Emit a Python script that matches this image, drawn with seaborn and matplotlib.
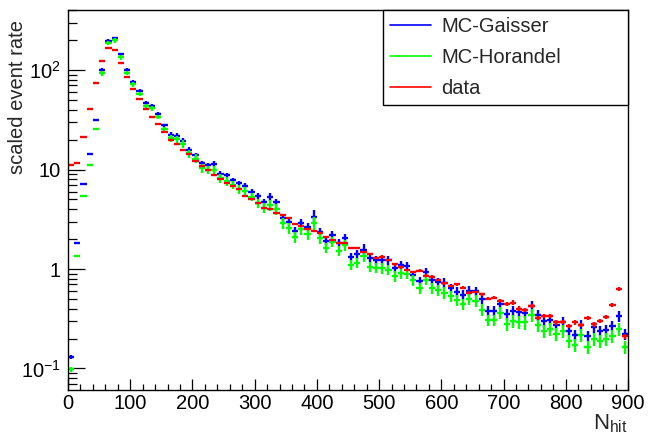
import numpy as np
import pandas as pd
import seaborn as sns
import matplotlib
matplotlib.use('Agg')
import matplotlib.pyplot as plt
from matplotlib.lines import Line2D
from matplotlib.ticker import FixedLocator, MultipleLocator, LogLocator, NullFormatter

# histogram bins: 0..900 in steps of 10
bin_edges = np.arange(0, 910, 10)
bin_centers = (bin_edges[:-1] + bin_edges[1:]) / 2

# MC-Gaisser (blue)
gaisser = [
    0.131, 1.84, 7.2, 14.4, 31.2, 100, 197, 208, 144, 101,
    76.3, 62, 46.6, 43.8, 36.1, 27.8, 22.2, 21.7, 19.5, 15.7,
    13.9, 11.5, 11.0, 11.4, 9.0, 8.75, 7.8, 7.25, 6.87, 5.98,
    5.4, 4.68, 5.33, 4.68, 3.23, 2.99, 2.41, 2.92, 2.62, 3.35,
    2.37, 1.92, 2.19, 1.84, 2.06, 1.33, 1.41, 1.55, 1.28, 1.23,
    1.23, 1.23, 1.02, 1.10, 1.08, 0.87, 0.76, 0.93, 0.775, 0.735,
    0.73, 0.64, 0.59, 0.55, 0.605, 0.60, 0.50, 0.38, 0.38, 0.45,
    0.35, 0.38, 0.37, 0.365, 0.425, 0.345, 0.30, 0.31, 0.273, 0.295,
    0.24, 0.217, 0.273, 0.212, 0.26, 0.24, 0.244, 0.27, 0.337, 0.222,
]
gaisser_relerr = [
    0.05, 0.01, 0.015, 0.015, 0.02, 0.04, 0.04, 0.04, 0.04, 0.04,
    0.04, 0.04, 0.04, 0.04, 0.04, 0.04, 0.065, 0.065, 0.065, 0.065,
    0.065, 0.065, 0.065, 0.065, 0.065, 0.065, 0.065, 0.065, 0.065, 0.065,
    0.065, 0.09, 0.09, 0.09, 0.10, 0.10, 0.10, 0.10, 0.10, 0.16,
    0.10, 0.10, 0.10, 0.10, 0.10, 0.10, 0.10, 0.15, 0.09, 0.10,
    0.10, 0.10, 0.10, 0.10, 0.10, 0.10, 0.10, 0.10, 0.10, 0.10,
    0.11, 0.11, 0.11, 0.11, 0.11, 0.11, 0.11, 0.11, 0.11, 0.11,
    0.12, 0.12, 0.12, 0.12, 0.12, 0.12, 0.12, 0.12, 0.12, 0.12,
    0.12, 0.13, 0.12, 0.115, 0.12, 0.12, 0.12, 0.12, 0.12, 0.12,
]

# MC-Horandel (green)
horandel = [
    0.098, 1.36, 5.45, 11.2, 25.7, 92.7, 188, 198, 134, 94,
    71.8, 57.4, 43.2, 41.2, 33.5, 25.7, 20.6, 20.1, 18.1, 14.5,
    12.9, 10.3, 9.9, 9.9, 8.2, 7.65, 7.0, 6.3, 6.1, 5.3,
    4.58, 4.13, 4.4, 3.98, 2.88, 2.56, 2.08, 2.5, 2.23, 2.88,
    2.03, 1.64, 1.88, 1.52, 1.74, 1.10, 1.16, 1.35, 1.05, 1.03,
    1.02, 0.98, 0.85, 0.905, 0.90, 0.775, 0.64, 0.78, 0.64, 0.61,
    0.58, 0.535, 0.49, 0.445, 0.50, 0.48, 0.39, 0.307, 0.307, 0.365,
    0.28, 0.30, 0.295, 0.29, 0.345, 0.275, 0.24, 0.25, 0.22, 0.24,
    0.19, 0.172, 0.217, 0.166, 0.198, 0.19, 0.196, 0.21, 0.25, 0.163,
]
horandel_relerr = [
    0.06, 0.015, 0.02, 0.02, 0.02, 0.05, 0.05, 0.05, 0.05, 0.05,
    0.05, 0.05, 0.05, 0.05, 0.05, 0.05, 0.09, 0.09, 0.09, 0.09,
    0.10, 0.10, 0.10, 0.10, 0.10, 0.10, 0.10, 0.10, 0.10, 0.10,
    0.10, 0.12, 0.12, 0.12, 0.12, 0.12, 0.12, 0.12, 0.12, 0.16,
    0.12, 0.12, 0.12, 0.12, 0.12, 0.12, 0.12, 0.12, 0.12, 0.12,
    0.12, 0.12, 0.12, 0.12, 0.12, 0.12, 0.12, 0.12, 0.12, 0.12,
    0.13, 0.13, 0.13, 0.13, 0.13, 0.13, 0.13, 0.13, 0.13, 0.13,
    0.15, 0.15, 0.15, 0.15, 0.15, 0.15, 0.15, 0.15, 0.15, 0.15,
    0.15, 0.15, 0.15, 0.15, 0.15, 0.15, 0.15, 0.15, 0.15, 0.15,
]

# data (red)
data = [
    11.2, 11.7, 21.4, 40.8, 74.5, 124, 167, 160, 118, 85.7,
    64.9, 51.5, 40.8, 33.9, 28.8, 24, 20, 17.9, 15.8, 14.3,
    12.3, 10.9, 9.8, 8.87, 8.1, 7.25, 6.8, 6.3, 5.4, 5.1,
    4.6, 4.1, 4.0, 3.68, 3.51, 3.28, 2.83, 2.7, 2.54, 2.43,
    2.32, 2.11, 1.96, 1.81, 1.81, 1.64, 1.64, 1.47, 1.41, 1.28,
    1.33, 1.23, 1.11, 1.04, 0.98, 0.93, 0.96, 0.86, 0.84, 0.775,
    0.72, 0.675, 0.70, 0.65, 0.58, 0.59, 0.557, 0.503, 0.515, 0.48,
    0.445, 0.46, 0.40, 0.387, 0.425, 0.32, 0.34, 0.34, 0.29, 0.295,
    0.267, 0.29, 0.273, 0.32, 0.278, 0.30, 0.33, 0.437, 0.63, 0.21,
]
data_relerr = [
    0.01, 0.01, 0.01, 0.01, 0.01, 0.01, 0.01, 0.01, 0.01, 0.01,
    0.01, 0.01, 0.01, 0.01, 0.01, 0.01, 0.01, 0.01, 0.01, 0.01,
    0.01, 0.01, 0.01, 0.01, 0.01, 0.01, 0.01, 0.01, 0.01, 0.01,
    0.01, 0.01, 0.01, 0.01, 0.01, 0.01, 0.01, 0.01, 0.01, 0.01,
    0.01, 0.01, 0.01, 0.01, 0.01, 0.01, 0.01, 0.01, 0.01, 0.01,
    0.03, 0.03, 0.03, 0.03, 0.03, 0.03, 0.03, 0.03, 0.03, 0.03,
    0.03, 0.03, 0.03, 0.03, 0.03, 0.03, 0.03, 0.03, 0.03, 0.03,
    0.05, 0.05, 0.05, 0.05, 0.05, 0.05, 0.05, 0.05, 0.05, 0.05,
    0.05, 0.05, 0.05, 0.05, 0.05, 0.05, 0.05, 0.05, 0.05, 0.05,
]

series = ['MC-Gaisser', 'MC-Horandel', 'data']
colors = {'MC-Gaisser': '#0000ff', 'MC-Horandel': '#00ff00', 'data': '#ff0000'}

df = pd.concat([
    pd.DataFrame({'nhit': bin_centers, 'rate': gaisser, 'relerr': gaisser_relerr, 'sample': 'MC-Gaisser'}),
    pd.DataFrame({'nhit': bin_centers, 'rate': horandel, 'relerr': horandel_relerr, 'sample': 'MC-Horandel'}),
    pd.DataFrame({'nhit': bin_centers, 'rate': data, 'relerr': data_relerr, 'sample': 'data'}),
])

sns.set_style('ticks')
plt.rcParams['font.family'] = ['Liberation Sans', 'DejaVu Sans']
plt.rcParams['font.size'] = 14.5

fig = plt.figure(figsize=(6.52, 4.36), dpi=100)
ax = fig.add_axes([68 / 652, 46 / 436, 560 / 652, 380 / 436])

for name in series:
    sub = df[df['sample'] == name]
    ax.errorbar(sub['nhit'], sub['rate'], xerr=5, yerr=sub['rate'] * sub['relerr'],
                fmt='none', ecolor=colors[name], elinewidth=1.7, capsize=0)

ax.set_yscale('log')
ax.set_xlim(0, 900)
ax.set_ylim(0.0608, 401)

ax.xaxis.set_major_locator(MultipleLocator(100))
ax.xaxis.set_minor_locator(MultipleLocator(20))
ax.yaxis.set_major_locator(FixedLocator([0.1, 1, 10, 100]))
ax.set_yticklabels([r'$\mathregular{10^{-1}}$', '1', '10', r'$\mathregular{10^{2}}$'])
ax.yaxis.set_minor_locator(LogLocator(base=10, subs=np.arange(2, 10)))
ax.yaxis.set_minor_formatter(NullFormatter())

ax.tick_params(which='both', direction='in', top=False, right=False, width=0.9,
               labelsize=14.5, colors='black')
ax.tick_params(axis='x', which='major', length=8, pad=3)
ax.tick_params(axis='x', which='minor', length=4)
ax.tick_params(axis='y', which='major', length=12.5, pad=5)
ax.tick_params(axis='y', which='minor', length=6.5)
for sp in ax.spines.values():
    sp.set_color('black')
    sp.set_linewidth(1.0)
ax.grid(False)

fig.text(18 / 652, 1 - 20 / 436, 'scaled event rate', rotation=90,
         ha='center', va='top', fontsize=14.5)
fig.text(628 / 652, 1 / 436, r'$\mathregular{N_{hit}}$', ha='right', va='bottom', fontsize=16)

handles = [Line2D([], [], color=colors[n], lw=1.2) for n in series]
leg = ax.legend(handles, series, loc='upper left', mode='expand',
                bbox_to_anchor=(0.5625, 0.7526, 0.4375, 0.2474), borderaxespad=0,
                fancybox=False, framealpha=1, edgecolor='black', fontsize=14.5,
                handlelength=2.05, handletextpad=0.5, labelspacing=0.6, borderpad=0.35)
leg.get_frame().set_linewidth(1.0)

fig.savefig('out.png', dpi=100)
